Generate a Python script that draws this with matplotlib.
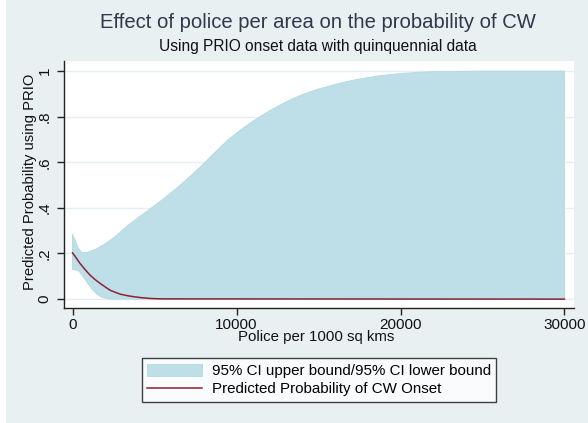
import numpy as np
import matplotlib
matplotlib.use('Agg')
import matplotlib.pyplot as plt
from matplotlib.patches import Rectangle

plt.rcParams['font.family'] = ['Liberation Sans', 'DejaVu Sans']

# 95% CI upper bound
x_upper = [0, 100, 200, 300, 400, 560, 800, 1070, 1500, 2000, 2500, 3000,
           3500, 4000, 4500, 5000, 5500, 6000, 6500, 7000, 7500, 8000, 8500,
           9000, 9500, 10000, 10500, 11000, 11500, 12000, 12500, 13000,
           13500, 14000, 14500, 15000, 15500, 16000, 16500, 17000, 17500,
           18000, 18500, 19000, 20000, 21000, 22000, 23000, 24000, 25000,
           30000]
ci_upper = [0.285, 0.268, 0.25, 0.232, 0.218, 0.205, 0.203, 0.209, 0.222,
            0.243, 0.268, 0.30, 0.33, 0.357, 0.383, 0.41, 0.437, 0.466,
            0.496, 0.527, 0.56, 0.594, 0.63, 0.665, 0.70, 0.728, 0.755,
            0.78, 0.803, 0.825, 0.845, 0.864, 0.881, 0.896, 0.909, 0.921,
            0.931, 0.941, 0.95, 0.958, 0.965, 0.971, 0.977, 0.982, 0.989,
            0.994, 0.997, 0.998, 0.999, 1.0, 1.0]

# 95% CI lower bound
x_lower = [0, 270, 400, 550, 700, 850, 1000, 1150, 1300, 1450, 1600, 1800,
           2000, 2200, 2400, 30000]
ci_lower = [0.13, 0.127, 0.122, 0.108, 0.092, 0.077, 0.062, 0.048, 0.035,
            0.024, 0.016, 0.008, 0.004, 0.001, 0.0, 0.0]

# predicted probability
x_pred = [0, 230, 460, 760, 1070, 1370, 1680, 2000, 2290, 2600, 2900, 3200,
          3510, 3800, 4120, 4400, 4730, 5000, 5500, 30000]
pred = [0.203, 0.18, 0.156, 0.13, 0.105, 0.086, 0.069, 0.053, 0.039, 0.03,
        0.022, 0.017, 0.013, 0.01, 0.007, 0.005, 0.003, 0.002, 0.001, 0.0]

xticks = [0, 10000, 20000, 30000]
yticks = [0, 0.2, 0.4, 0.6, 0.8, 1]
ytick_labels = ['0', '.2', '.4', '.6', '.8', '1']

bg = '#e9f0f2'
fill_col = '#bedfe8'
line_col = '#8c2230'

W, H = 588, 423
fig = plt.figure(figsize=(W / 100, H / 100), dpi=100, facecolor=bg)
fig.patches.append(Rectangle((0, 0), 6 / W, 1, transform=fig.transFigure,
                             facecolor='white', edgecolor='none'))

ax = fig.add_axes([64 / W, 1 - 308 / H, 510 / W, 247 / H])
ax.set_facecolor('white')

poly_x = np.r_[x_upper, x_lower[::-1]]
poly_y = np.r_[ci_upper, ci_lower[::-1]]
ci_patch = ax.fill(poly_x, poly_y, facecolor=fill_col, edgecolor='#b3d8e2',
                   lw=0.6, zorder=2,
                   label='95% CI upper bound/95% CI lower bound')[0]
pred_line, = ax.plot(x_pred, pred, color=line_col, lw=1.1, zorder=3,
                     label='Predicted Probability of CW Onset')

ax.set_xlim(-520, 30580)
ax.set_ylim(-0.039, 1.044)
ax.set_xticks(xticks)
ax.set_xticklabels([str(t) for t in xticks])
ax.set_yticks(yticks)
ax.set_yticklabels(ytick_labels)
plt.setp(ax.get_yticklabels(), rotation=90, va='center')

ax.yaxis.grid(True, color='#e6eef1', lw=1.0, zorder=1)
ax.set_axisbelow(True)
for s in ['top', 'right']:
    ax.spines[s].set_visible(False)
for s in ['left', 'bottom']:
    ax.spines[s].set_color('#222222')
    ax.spines[s].set_linewidth(1.0)
ax.tick_params(direction='out', length=5, width=1, color='#222222',
               labelsize=11, labelcolor='#111111')
ax.tick_params(axis='y', pad=4)
ax.tick_params(axis='x', pad=2)

ax.set_xlabel('Police per 1000 sq kms', fontsize=10.8, color='#111111')
ax.xaxis.set_label_coords(0.495, -0.09)
ax.set_ylabel('Predicted Probability using PRIO', fontsize=10.6, color='#111111')
ax.yaxis.set_label_coords(-0.052, 0.512)

fig.text(318 / W, 1 - 22 / H, 'Effect of police per area on the probability of CW',
         ha='center', va='center', fontsize=14.6, color='#2e3a4c')
fig.text(318 / W, 1 - 47 / H, 'Using PRIO onset data with quinquennial data',
         ha='center', va='center', fontsize=11.2, color='#111111')

leg = fig.legend(handles=[ci_patch, pred_line], loc='center',
                 bbox_to_anchor=(319 / W, 1 - 380 / H), fontsize=10.9,
                 frameon=True, fancybox=False, handlelength=3.6,
                 handleheight=0.9, labelspacing=0.25, borderpad=0.35,
                 handletextpad=0.66, borderaxespad=0)
leg.get_frame().set_edgecolor('#111111')
leg.get_frame().set_linewidth(1.0)

fig.savefig('out.png', dpi=100, facecolor=bg)
